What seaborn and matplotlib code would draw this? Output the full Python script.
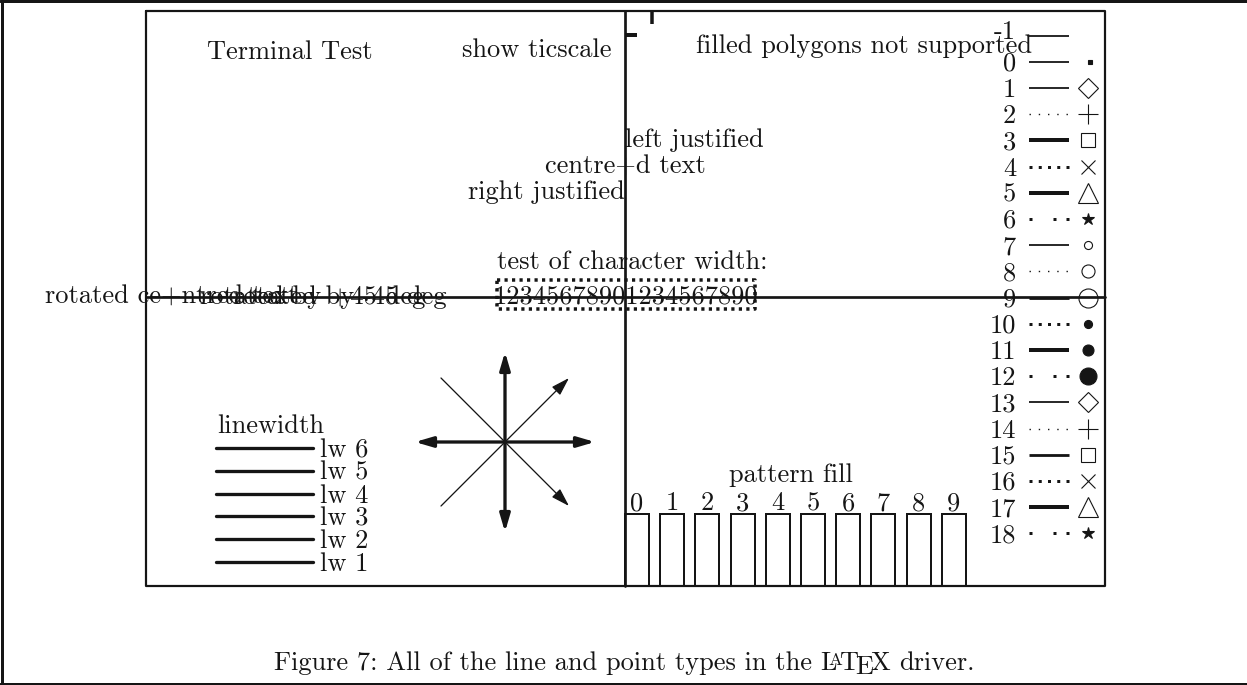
import numpy as np
import pandas as pd
import matplotlib
matplotlib.use("Agg")
import matplotlib.pyplot as plt
from matplotlib.patches import FancyArrowPatch
import seaborn as sns

# text and items of the gnuplot terminal test page
title_text = "Terminal Test"
ticscale_text = "show ticscale"
polygon_text = "filled polygons not supported"
justify_texts = ["left justified", "centre+d text", "right justified"]
charwidth_title = "test of character width:"
charwidth_digits = "12345678901234567890"
rotated_centre_text = "rotated ce+ntred text"
rotated_texts = ["rotated by +45 deg", "rotated by -45 deg"]
linewidth_title = "linewidth"
linewidths = [6, 5, 4, 3, 2, 1]
pattern_title = "pattern fill"
patterns = list(range(10))
linetypes = list(range(-1, 19))
caption_head = "Figure 7: All of the line and point types in the"
caption_logo = ["L", "A", "T", "E", "X"]
caption_tail = "driver."

# styles
PX = 0.72  # one pixel in points (dpi 100)
INK = "#151515"
FS = 19
EM = FS / PX  # em in pixels

line_kind = ["solid", "solid", "solid", "dot", "thick", "bolddot", "thick", "sparse",
             "solid", "dot", "mid", "bolddot", "thick", "sparse",
             "solid", "dot", "mid", "bolddot", "thick", "sparse"]
kind_style = {
    "solid": dict(lw=1.8 * PX, ls="-"),
    "mid": dict(lw=2.8 * PX, ls="-"),
    "thick": dict(lw=4 * PX, ls="-"),
    "dot": dict(lw=1.4 * PX, ls=(0, (1.4 * PX, 7.85 * PX))),
    "bolddot": dict(lw=3 * PX, ls=(0, (3 * PX, 6.25 * PX))),
    "sparse": dict(lw=3 * PX, ls=(0, (3 * PX, 21 * PX, 3 * PX, 10 * PX, 3 * PX, 60 * PX))),
}
point_style = [None,
               ("s", 3, True),
               ("D", 10, False), ("+", 14, False), ("s", 10.5, False), ("x", 9.4, False),
               ("^", 15, False), ("*", 9, True),
               ("o", 5.8, False), ("o", 9.4, False), ("o", 13.7, False),
               ("o", 5.8, True), ("o", 7.9, True), ("o", 12.2, True),
               ("D", 10, False), ("+", 14, False), ("s", 10.5, False), ("x", 9.4, False),
               ("^", 15, False), ("*", 9, True)]
# LaTeX logo: (size scale, drop in em, kern after in em)
logo_geom = [(1.0, 0.0, -0.33), (0.7, -0.2, -0.13), (1.0, 0.0, -0.12),
             (1.0, 0.16, -0.1), (1.0, 0.0, 0.0)]

sns.set_theme(style="white")
plt.rcParams["font.family"] = ["cmr10", "DejaVu Serif"]
plt.rcParams["lines.scale_dashes"] = False
plt.rcParams["axes.unicode_minus"] = False

fig = plt.figure(figsize=(12.47, 6.85), dpi=100)
ax = fig.add_axes([0, 0, 1, 1])
ax.set_xlim(0, 1247)
ax.set_ylim(685, 0)

# page border and plot frame
ax.plot([1.5, 1.5], [0, 685], color=INK, lw=3 * PX)
ax.plot([0, 1247], [1.3, 1.3], color=INK, lw=3 * PX)
ax.plot([0, 1247], [683.8, 683.8], color=INK, lw=3 * PX)
L, R, T, B = 146, 1105, 10.5, 586
XC, YC = 625, 297
ax.plot([L, R, R, L, L], [T, T, B, B, T], color=INK, lw=2.2 * PX)
ax.plot([XC, XC], [T, B], color=INK, lw=2.7 * PX)
ax.plot([L, R], [YC, YC], color=INK, lw=2.7 * PX)

# ticscale marks
ax.plot([XC, XC + 12], [35, 35], color=INK, lw=4 * PX, solid_capstyle="butt")
ax.plot([652, 652], [12, 24], color=INK, lw=3.5 * PX, solid_capstyle="butt")

txt = dict(fontsize=FS, color=INK, va="baseline")
ax.text(290, 59, title_text, ha="center", **txt)
ax.text(612, 57, ticscale_text, ha="right", **txt)
ax.text(864, 53, polygon_text, ha="center", **txt)
for s, ha, yb in zip(justify_texts, ["left", "center", "right"], [147, 174, 199]):
    ax.text(XC, yb, s, ha=ha, **txt)
ax.text(632, 269, charwidth_title, ha="center", **txt)
ax.text(626, 303, charwidth_digits, ha="center", **txt)
ax.plot([497, 755, 755, 497, 497], [280, 280, 309, 309, 280], color=INK, lw=3.5 * PX,
        ls=(0, (3.2 * PX, 4.3 * PX)), dash_capstyle="butt")
ax.text(172, 304, rotated_centre_text, ha="center", **txt)
for s, x0 in zip(rotated_texts, [200, 233]):
    ax.text(x0, 304, s, ha="left", **txt)

# linewidth samples
lw_y = 448 + 22.8 * np.arange(len(linewidths))
df_lw = pd.DataFrame({"x": np.tile([216, 313], len(linewidths)),
                      "y": np.repeat(lw_y, 2),
                      "lw": np.repeat(linewidths, 2)})
sns.lineplot(data=df_lw, x="x", y="y", units="lw", estimator=None, color=INK,
             lw=3.3 * PX, ax=ax, legend=False, sort=False)
ax.text(217, 433, linewidth_title, ha="left", **txt)
for w, y in zip(linewidths, lw_y):
    ax.text(320, y + 9, f"lw {w}", ha="left", **txt)

# arrows
cx, cy, r, d = 505, 442, 90, 64
for (x0, y0, x1, y1) in [(cx, cy + r, cx, cy - r), (cx - r, cy, cx + r, cy)]:
    ax.add_patch(FancyArrowPatch((x0, y0), (x1, y1), arrowstyle="<|-|>,head_length=0.75,head_width=0.22",
                                 mutation_scale=14, lw=3.3 * PX, color=INK, shrinkA=0, shrinkB=0))
for (x0, y0, x1, y1) in [(cx - d, cy + d, cx + d, cy - d), (cx - d, cy - d, cx + d, cy + d)]:
    ax.add_patch(FancyArrowPatch((x0, y0), (x1, y1), arrowstyle="-|>,head_length=0.8,head_width=0.25",
                                 mutation_scale=14, lw=1.3 * PX, color=INK, shrinkA=0, shrinkB=0))

# pattern fill boxes
box_x = 637 + 35.2 * np.array(patterns)
ax.bar(box_x, B - 514, bottom=514, width=24, fill=False, edgecolor=INK, lw=2 * PX)
for p, x in zip(patterns, box_x):
    ax.text(x, 510, str(p), ha="center", **txt)
ax.text(791, 482, pattern_title, ha="center", **txt)

# line and point types
row_y = 35.5 + 26.2 * np.arange(len(linetypes))
for i, (lt, y) in enumerate(zip(linetypes, row_y)):
    st = kind_style[line_kind[i]]
    ax.plot([1029, 1069], [y, y], color=INK, lw=st["lw"], ls=st["ls"],
            solid_capstyle="butt", dash_capstyle="butt")
    ax.text(1016, y + (3 if lt < 0 else 9), str(lt), ha="right", **txt)
    ps = point_style[i]
    if ps is not None:
        m, ms, filled = ps
        ax.plot([1088 if lt else 1090], [y], marker=m, ms=ms, mew=0.8,
                mec=INK, mfc=INK if filled else "none", ls="none")

# caption, with the LaTeX logo built from its letters
fig.canvas.draw()
rend = fig.canvas.get_renderer()
cap_y = 670
parts = []
x = 0.0
t = ax.text(x, cap_y, caption_head, ha="left", **txt)
parts.append((t, x))
x += t.get_window_extent(rend).width + 0.333 * EM
for ch, (sc, drop, kern) in zip(caption_logo, logo_geom):
    t = ax.text(x, cap_y + drop * EM, ch, ha="left", fontsize=FS * sc, color=INK, va="baseline")
    parts.append((t, x))
    x += t.get_window_extent(rend).width + kern * EM
x += 0.333 * EM
t = ax.text(x, cap_y, caption_tail, ha="left", **txt)
parts.append((t, x))
x += t.get_window_extent(rend).width
shift = 624 - x / 2
for t, x0 in parts:
    t.set_x(x0 + shift)

ax.axis("off")
fig.savefig("out.png", dpi=100)
